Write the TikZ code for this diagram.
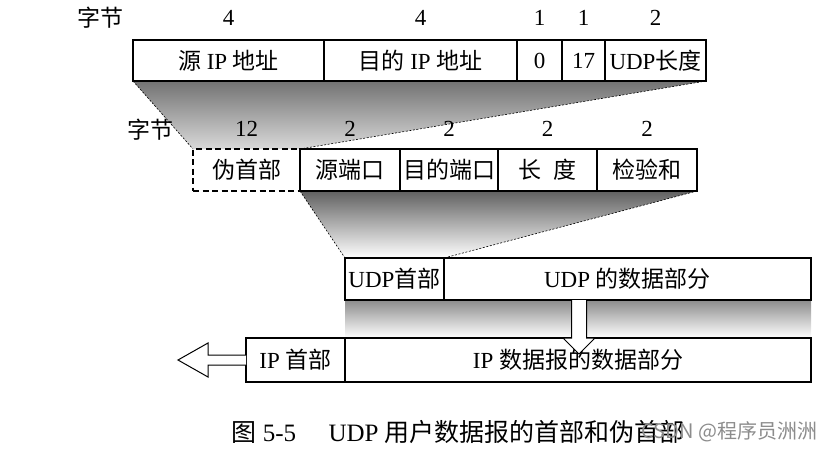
\documentclass[tikz,border=0pt]{standalone}
\usepackage{fontspec}
\setmainfont{Liberation Serif}
\newfontfamily\cjk{Noto Sans CJK SC}
\usepackage{tikz}
\usetikzlibrary{positioning,calc,backgrounds}
\newcommand{\zh}[1]{{\cjk #1}}
\tikzset{
  fld/.style={draw,line width=1.1pt,outer sep=0pt,inner sep=0pt,
              minimum height=42pt,anchor=north west},
  pfld/.style={fld,dash pattern=on 6pt off 3.5pt},
  proj/.style={dash pattern=on 2pt off 1.6pt,line width=0.6pt},
  hollow/.style={draw,line width=1pt,fill=white,line join=miter}
}

\begin{document}
\begin{tikzpicture}[x=1pt,y=-1pt,font=\fontsize{23}{26}\selectfont]
  \path[use as bounding box] (0,0) rectangle (835,450);
  % pseudo header fields
  \node[fld,minimum height=41pt,minimum width=191pt] (sip) at (133,40){\zh{源} IP \zh{地址}};
  \node[fld,minimum height=41pt,minimum width=193pt] (dip) at (324,40){\zh{目的} IP \zh{地址}};
  \node[fld,minimum height=41pt,minimum width=45pt] (zero) at (517,40){0};
  \node[fld,minimum height=41pt,minimum width=43pt] (proto) at (562,40){17};
  \node[fld,minimum height=41pt,minimum width=101pt] (ulen) at (605,40){UDP\zh{长度}};
  \node (bytesA) at (100,18){\zh{字节}};
  \node at ($(sip.north)+(0,-22)$){4};
  \node at ($(dip.north)+(0,-22)$){4};
  \node at ($(zero.north)+(0,-22)$){1};
  \node at ($(proto.north)+(0,-22)$){1};
  \node at ($(ulen.north)+(0,-22)$){2};
  % udp header
  \node[pfld,minimum width=107pt] (pseudo) at (193,149){\zh{伪首部}};
  \node[fld,minimum width=100pt] (sport) at (300,149){\zh{源端口}};
  \node[fld,minimum width=98pt] (dport) at (400,149){\zh{目的端口}};
  \node[fld,minimum width=99pt] (len) at (498,149){\zh{长\hspace{0.5em}度}};
  \node[fld,minimum width=100pt] (chk) at (597,149){\zh{检验和}};
  \node (bytesB) at (150,130){\zh{字节}};
  \node at ($(pseudo.north)+(0,-20)$){12};
  \node at ($(sport.north)+(0,-20)$){2};
  \node at ($(dport.north)+(0,-20)$){2};
  \node at ($(len.north)+(0,-20)$){2};
  \node at ($(chk.north)+(0,-20)$){2};
  % udp datagram and ip datagram
  \node[fld,minimum width=99pt] (udph) at (345,258){UDP\zh{首部}};
  \node[fld,minimum width=367pt] (udpd) at (444,258){UDP \zh{的数据部分}};
  \node[fld,minimum height=44pt,minimum width=99pt] (iph) at (246,338){IP \zh{首部}};
  \node[fld,minimum height=44pt,minimum width=466pt] (ipd) at (345,338){IP \zh{数据报的数据部分}};
  \begin{scope}[on background layer]
    \shade[top color=black!55,bottom color=black!15]
      (sip.south west) -- (ulen.south east) -- (sport.north west) -- (pseudo.north west) -- cycle;
    \shade[top color=black!62,bottom color=white]
      (sport.south west) -- (chk.south east) -- (udph.north east) -- (udph.north west) -- cycle;
    \shade[top color=black!45,bottom color=white]
      (udph.south west) rectangle (udpd.south east |- ipd.north);
  \end{scope}
  \draw[proj] (sip.south west) -- (pseudo.north west);
  \draw[proj] (ulen.south east) -- (sport.north west);
  \draw[proj] (sport.south west) -- (udph.north west);
  \draw[proj] (chk.south east) -- (udph.north east);
  % hollow arrows
  \coordinate (dn) at (579,300);
  \draw[hollow] ($(dn)+(-7.5,0)$) -- ($(dn)+(-7.5,38)$) -- ($(dn)+(-16,38)$) -- ($(dn)+(0,54)$)
    -- ($(dn)+(16,38)$) -- ($(dn)+(7.5,38)$) -- ($(dn)+(7.5,0)$);
  \coordinate (lf) at (iph.west);
  \draw[hollow] ($(lf)+(0,-5)$) -- ($(lf)+(-38,-5)$) -- ($(lf)+(-38,-17)$) -- ($(lf)+(-68,0)$)
    -- ($(lf)+(-38,17)$) -- ($(lf)+(-38,5)$) -- ($(lf)+(0,5)$);
  % caption
  \node[anchor=west,font=\fontsize{25}{28}\selectfont] (cap) at (228,432)
    {\zh{图} 5-5\hspace{1.3em}UDP \zh{用户数据报的首部和伪首部}};
  \node[anchor=west,text=black!45,font=\cjk\fontsize{20}{23}\selectfont] (wm) at (638,432){CSDN @程序员洲洲};
\end{tikzpicture}
\end{document}
